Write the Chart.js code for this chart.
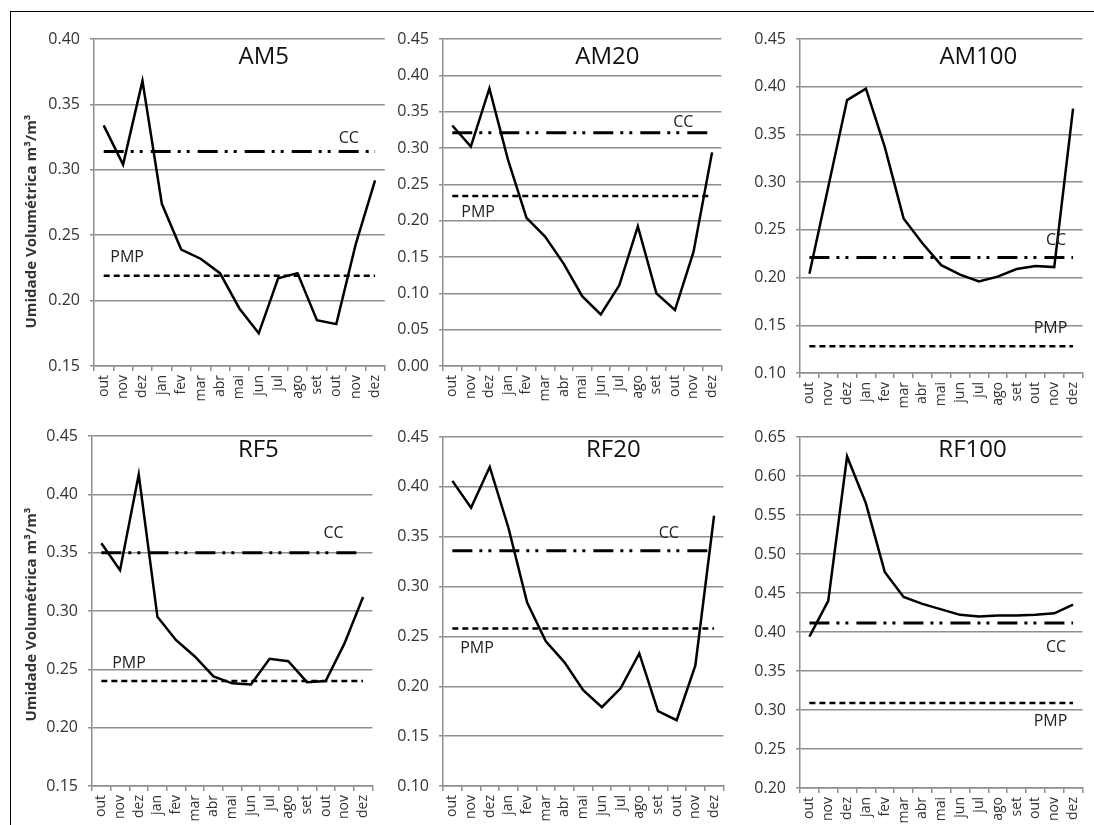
<!DOCTYPE html>
<html>
<head>
<meta charset="utf-8">
<script src="https://cdn.jsdelivr.net/npm/chart.js@4.4.0/dist/chart.umd.min.js"></script>
<style>
  html, body { margin: 0; padding: 0; background: #fff; }
  body { width: 1094px; height: 825px; position: relative; overflow: hidden; }
  #frame {
    position: absolute; left: 10px; top: 11px; right: -5px; bottom: -5px;
    border-left: 1.5px solid #000; border-top: 1.5px solid #000;
  }
  canvas { position: absolute; }
</style>
</head>
<body>
<div id="frame"></div>
<script>
// ===== DADOS =====
const months = ["out", "nov", "dez", "jan", "fev", "mar", "abr", "mai", "jun", "jul", "ago", "set", "out", "nov", "dez"];

const am5   = [0.334, 0.304, 0.368, 0.274, 0.239, 0.232, 0.221, 0.194, 0.175, 0.217, 0.221, 0.185, 0.182, 0.243, 0.292];
const am20  = [0.331, 0.302, 0.382, 0.284, 0.204, 0.178, 0.141, 0.096, 0.071, 0.111, 0.192, 0.100, 0.077, 0.157, 0.294];
const am100 = [0.204, 0.295, 0.386, 0.398, 0.337, 0.262, 0.236, 0.213, 0.203, 0.196, 0.201, 0.209, 0.212, 0.211, 0.377];
const rf5   = [0.358, 0.335, 0.417, 0.295, 0.275, 0.261, 0.244, 0.238, 0.237, 0.259, 0.257, 0.239, 0.240, 0.272, 0.312];
const rf20  = [0.406, 0.379, 0.420, 0.359, 0.284, 0.245, 0.224, 0.196, 0.179, 0.198, 0.233, 0.175, 0.166, 0.221, 0.371];
const rf100 = [0.394, 0.440, 0.625, 0.565, 0.477, 0.445, 0.436, 0.429, 0.422, 0.420, 0.421, 0.421, 0.422, 0.424, 0.435];

const panelNames = ["AM5", "AM20", "AM100", "RF5", "RF20", "RF100"];
const panelSeries = [am5, am20, am100, rf5, rf20, rf100];
const ccLevels  = [0.314, 0.321, 0.221, 0.350, 0.336, 0.4115]; // capacidade de campo
const pmpLevels = [0.219, 0.234, 0.128, 0.240, 0.258, 0.309];  // ponto de murcha
const yMin = [0.15, 0.00, 0.10, 0.15, 0.10, 0.20];
const yMax = [0.40, 0.45, 0.45, 0.45, 0.45, 0.65];

// ===== LAYOUT (área do gráfico em px na página) =====
const boxes = [
  { plot: [94, 39, 392, 366],  canvasLeft: 12,  yTitleShift: 19,  title: [8.26, 0.386],  cc: [12.64, 0.3243], pmp: [1.21, 0.2333] },
  { plot: [443, 39, 729, 366], canvasLeft: 396, title: [8.36, 0.4256], cc: [12.45, 0.3346], pmp: [1.39, 0.2118] },
  { plot: [800, 39, 1090, 373], canvasLeft: 752, title: [8.97, 0.4314], cc: [13.1, 0.2393], pmp: [12.8, 0.1469] },
  { plot: [92, 436, 380, 786],  canvasLeft: 12,  yTitleShift: 3.5, title: [8.4, 0.438],   cc: [12.42, 0.3669], pmp: [1.48, 0.2554] },
  { plot: [443, 437, 731, 786], canvasLeft: 396, title: [8.61, 0.4367], cc: [11.58, 0.3535], pmp: [1.32, 0.2383] },
  { plot: [800, 437, 1090, 788], canvasLeft: 752, title: [8.66, 0.6337], cc: [13.1, 0.3799], pmp: [12.8, 0.285] },
];

const PAD_TOP = 22;
const PAD_RIGHT = 4;
const X_AXIS_H = 46;
const gridColor = "#8e8e8e";
const textColor = "#333";

Chart.defaults.font.family = '"Open Sans", sans-serif';

// textos dentro do gráfico: título, CC, PMP e título do eixo Y
const panelText = {
  id: "panelText",
  afterDatasetsDraw(chart, args, opts) {
    const { ctx, scales, chartArea } = chart;
    const px = (p) => [scales.x.getPixelForValue(p[0]), scales.y.getPixelForValue(p[1])];
    ctx.save();
    ctx.textAlign = "center";
    ctx.textBaseline = "middle";

    ctx.fillStyle = "#111";
    ctx.font = '24px "Open Sans"';
    ctx.fillText(opts.title, ...px(opts.box.title));

    ctx.fillStyle = "#222";
    ctx.font = '16px "Open Sans"';
    ctx.fillText("CC", ...px(opts.box.cc));
    ctx.fillText("PMP", ...px(opts.box.pmp));

    if (opts.box.yTitleShift !== undefined) {
      ctx.translate(20, (chartArea.top + chartArea.bottom) / 2 + opts.box.yTitleShift);
      ctx.rotate(-Math.PI / 2);
      ctx.fillStyle = "#333";
      ctx.font = 'bold 15px "Open Sans"';
      ctx.fillText("Umidade Volumétrica m³/m³", 0, 0);
    }
    ctx.restore();
  },
};

function buildPanel(i) {
  const box = boxes[i];
  const [L, T, R, B] = box.plot;
  const yAxisW = L - box.canvasLeft;
  const top = T - PAD_TOP;
  const width = R - box.canvasLeft + PAD_RIGHT;
  const height = B - top + X_AXIS_H;

  const canvas = document.createElement("canvas");
  canvas.width = width;
  canvas.height = height;
  canvas.style.left = box.canvasLeft + "px";
  canvas.style.top = top + "px";
  canvas.style.width = width + "px";
  canvas.style.height = height + "px";
  document.body.appendChild(canvas);

  const flat = (v) => months.map(() => v);

  new Chart(canvas.getContext("2d"), {
    type: "line",
    data: {
      labels: months,
      datasets: [
        {
          label: panelNames[i],
          data: panelSeries[i],
          borderColor: "#000",
          borderWidth: 2.5,
          pointRadius: 0,
          tension: 0,
        },
        {
          label: "CC",
          data: flat(ccLevels[i]),
          borderColor: "#000",
          borderWidth: 3,
          borderDash: [20, 7, 3, 6, 3, 8],
          pointRadius: 0,
        },
        {
          label: "PMP",
          data: flat(pmpLevels[i]),
          borderColor: "#000",
          borderWidth: 2.5,
          borderDash: [6, 4],
          pointRadius: 0,
        },
      ],
    },
    options: {
      responsive: false,
      animation: false,
      devicePixelRatio: 1,
      layout: { padding: { top: PAD_TOP, right: PAD_RIGHT, left: 0, bottom: 0 } },
      plugins: {
        legend: { display: false },
        tooltip: { enabled: false },
        panelText: { title: panelNames[i], box: box },
      },
      scales: {
        x: {
          type: "category",
          offset: true,
          grid: { offset: true, drawOnChartArea: false, drawTicks: true, tickLength: 5, color: gridColor, lineWidth: 1.5 },
          border: { display: true, color: gridColor, width: 1.5 },
          ticks: { autoSkip: false, maxRotation: 90, minRotation: 90, padding: 4, color: textColor, font: { size: 14 } },
          afterFit(scale) { scale.height = X_AXIS_H; },
        },
        y: {
          min: yMin[i],
          max: yMax[i],
          grid: { color: gridColor, lineWidth: 1.5, tickLength: 4 },
          border: { display: true, color: gridColor, width: 1.5 },
          ticks: {
            stepSize: 0.05,
            padding: 10,
            color: textColor,
            font: { size: 16 },
            callback: (v) => Number(v).toFixed(2),
          },
          afterFit(scale) { scale.width = yAxisW; },
        },
      },
    },
    plugins: [panelText],
  });
}

Promise.all([
  document.fonts.load('16px "Open Sans"'),
  document.fonts.load('bold 15px "Open Sans"'),
]).finally(() => {
  for (let i = 0; i < boxes.length; i++) buildPanel(i);
});
</script>
</body>
</html>
